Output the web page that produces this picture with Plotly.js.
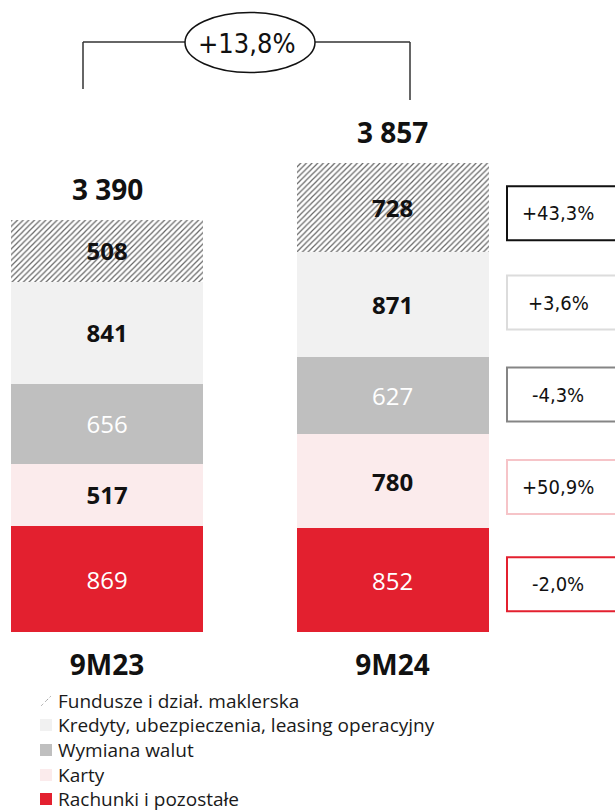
<!DOCTYPE html>
<html>
<head>
<meta charset="utf-8">
<script src="https://cdn.plot.ly/plotly-3.0.1.min.js"></script>
<style>html,body{margin:0;padding:0;background:#fff;}#chart{width:615px;height:812px;}</style>
</head>
<body>
<div id="chart"></div>
<script>
// ---- data ----
var categories = ['9M23', '9M24'];
var seriesNames = ['Rachunki i pozostałe', 'Karty', 'Wymiana walut', 'Kredyty, ubezpieczenia, leasing operacyjny', 'Fundusze i dział. maklerska'];
var rachunki = [869, 852];
var karty = [517, 780];
var wymiana = [656, 627];
var kredyty = [841, 871];
var fundusze = [508, 728];
var totals = [3390, 3857];
var totalLabels = ['3 390', '3 857'];
var changeLabels = ['-2,0%', '+50,9%', '-4,3%', '+3,6%', '+43,3%'];
var totalChangeLabel = '+13,8%';

// ---- styles ----
var W = 615, H = 812, plotBottom = 632;
var colors = ['#E3202F', '#FBEBEC', '#BFBFBF', '#F1F1F1', '#FFFFFF'];
var textColors = ['#FFFFFF', '#111111', '#FFFFFF', '#111111', '#111111'];
var textWeights = ['normal', 'bold', 'normal', 'bold', 'bold'];
var boxBorders = ['#E3202F', '#F6C4C8', '#858585', '#DCDCDC', '#111111'];
var boxOffsetPx = [-4, -6, 1, 2, -6]; // pixel shift (up positive)
var numFont = 'Open Sans, Noto Sans, sans-serif';
var narrowFont = 'Liberation Sans Narrow, Arial Narrow, DejaVu Sans Condensed, Roboto, sans-serif';

var series = [rachunki, karty, wymiana, kredyty, fundusze];
var yMax = 5200;

function px(p) { return p / W; }
function py(p) { return (plotBottom - p) / plotBottom; }

var traces = series.map(function (vals, i) {
  var t = {
    type: 'bar',
    name: seriesNames[i],
    x: categories,
    y: vals,
    width: 0.672,
    text: vals.map(String),
    textposition: 'inside',
    insidetextanchor: 'middle',
    textangle: 0,
    constraintext: 'none',
    insidetextfont: { family: numFont, size: 24, color: textColors[i], weight: textWeights[i] },
    marker: { color: colors[i], line: { width: 0 } },
    hoverinfo: 'skip',
    showlegend: false
  };
  if (i === 4) {
    t.marker.pattern = { shape: '/', fgcolor: '#666666', bgcolor: '#FFFFFF', size: 4, solidity: 0.3 };
  }
  return t;
});

var annotations = [];
var shapes = [];

// totals above bars
categories.forEach(function (c, j) {
  annotations.push({
    x: c, y: totals[j], xref: 'x', yref: 'y', text: totalLabels[j],
    showarrow: false, yanchor: 'middle', yshift: 31,
    font: { family: numFont, size: 28, color: '#111', weight: 'bold' }
  });
});

// change boxes beside 9M24 segments
var cum = 0;
series.forEach(function (vals, i) {
  var mid = cum + vals[1] / 2;
  cum += vals[1];
  shapes.push({
    type: 'rect', xref: 'paper', x0: px(507), x1: px(660),
    yref: 'y', ysizemode: 'pixel', yanchor: mid,
    y0: boxOffsetPx[i] - 27, y1: boxOffsetPx[i] + 27,
    line: { color: boxBorders[i], width: 2 }, fillcolor: 'rgba(0,0,0,0)'
  });
  annotations.push({
    xref: 'paper', x: px(558), yref: 'y', y: mid, yshift: boxOffsetPx[i],
    text: changeLabels[i], showarrow: false, xanchor: 'center', yanchor: 'middle',
    font: { family: narrowFont, size: 20, color: '#111' }
  });
});

// bracket with ellipse
var lc = '#333333';
shapes.push({ type: 'line', xref: 'paper', yref: 'paper', x0: px(83), x1: px(83), y0: py(42), y1: py(89), line: { color: lc, width: 1.5 } });
shapes.push({ type: 'line', xref: 'paper', yref: 'paper', x0: px(83), x1: px(185), y0: py(42), y1: py(42), line: { color: lc, width: 1.5 } });
shapes.push({ type: 'line', xref: 'paper', yref: 'paper', x0: px(315), x1: px(410), y0: py(42), y1: py(42), line: { color: lc, width: 1.5 } });
shapes.push({ type: 'line', xref: 'paper', yref: 'paper', x0: px(410), x1: px(410), y0: py(42), y1: py(100), line: { color: lc, width: 1.5 } });
shapes.push({ type: 'circle', xref: 'paper', yref: 'paper', x0: px(185), x1: px(315), y0: py(12.5), y1: py(72.5), line: { color: '#111', width: 1.5 }, fillcolor: '#FFFFFF' });
annotations.push({
  xref: 'paper', yref: 'paper', x: px(247), y: py(43), text: totalChangeLabel, showarrow: false,
  xanchor: 'center', yanchor: 'middle', font: { family: narrowFont, size: 27, color: '#111' }
});

// custom legend (top = last series)
var rowY = [799, 775, 750, 725, 701];
series.forEach(function (vals, i) {
  var cy = rowY[i];
  if (i === 4) {
    shapes.push({ type: 'line', xref: 'paper', yref: 'paper', x0: px(41), x1: px(46), y0: py(cy + 5), y1: py(cy), line: { color: '#9a9a9a', width: 1, dash: 'dot' } });
    shapes.push({ type: 'line', xref: 'paper', yref: 'paper', x0: px(46), x1: px(51), y0: py(cy), y1: py(cy - 5), line: { color: '#9a9a9a', width: 1, dash: 'dot' } });
    shapes.push({ type: 'line', xref: 'paper', yref: 'paper', x0: px(41), x1: px(51), y0: py(cy + 5), y1: py(cy - 5), line: { color: '#bbbbbb', width: 1, dash: 'dot' } });
  } else {
    shapes.push({ type: 'rect', xref: 'paper', yref: 'paper', x0: px(40), x1: px(52), y0: py(cy + 6), y1: py(cy - 6), line: { width: 0 }, fillcolor: colors[i] });
  }
  annotations.push({
    xref: 'paper', yref: 'paper', x: px(57), y: py(cy), text: seriesNames[i], showarrow: false,
    xanchor: 'left', yanchor: 'middle', height: 22, borderpad: 0,
    font: { family: numFont, size: 19, color: '#1a1a1a' }
  });
});

var layout = {
  width: W, height: H,
  margin: { l: 0, r: 0, t: 0, b: H - plotBottom, pad: 0 },
  paper_bgcolor: '#FFFFFF', plot_bgcolor: '#FFFFFF',
  barmode: 'stack', bargap: 0,
  showlegend: false,
  xaxis: {
    type: 'category', range: [-0.375, 1.779], showgrid: false, zeroline: false, showline: false,
    ticks: '', ticklabelstandoff: 14,
    tickfont: { family: numFont, size: 28, color: '#111', weight: 'bold' }, fixedrange: true
  },
  yaxis: { range: [0, yMax], visible: false, showgrid: false, zeroline: false, fixedrange: true },
  shapes: shapes,
  annotations: annotations
};

Plotly.newPlot('chart', traces, layout, { staticPlot: true, displayModeBar: false });
</script>
</body>
</html>
